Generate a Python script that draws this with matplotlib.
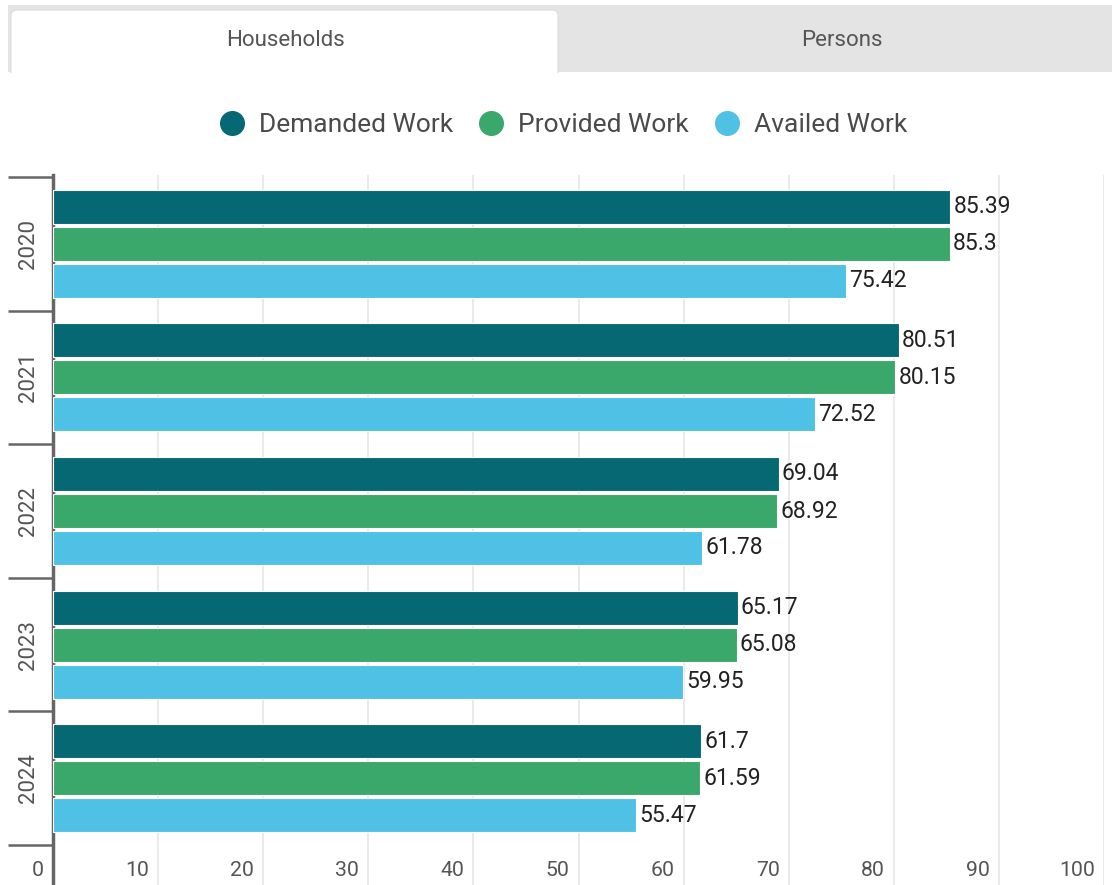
import numpy as np
import matplotlib
matplotlib.use("Agg")
import matplotlib.pyplot as plt
from matplotlib.patches import Rectangle, FancyBboxPatch
from matplotlib.lines import Line2D
from matplotlib.transforms import ScaledTranslation

plt.rcParams['font.family'] = ['Roboto', 'DejaVu Sans']

# data
years = ['2020', '2021', '2022', '2023', '2024']
demanded = [85.39, 80.51, 69.04, 65.17, 61.70]
provided = [85.30, 80.15, 68.92, 65.08, 61.59]
availed = [75.42, 72.52, 61.78, 59.95, 55.47]
value_labels = [
    ['85.39', '80.51', '69.04', '65.17', '61.7'],
    ['85.3', '80.15', '68.92', '65.08', '61.59'],
    ['75.42', '72.52', '61.78', '59.95', '55.47'],
]
series_names = ['Demanded Work', 'Provided Work', 'Availed Work']
colors = ['#066872', '#3aa86b', '#4fc1e5']
xticks = [0, 10, 20, 30, 40, 50, 60, 70, 80, 90, 100]

W, H = 1112, 885
fig = plt.figure(figsize=(W / 100, H / 100), dpi=100)

# tab strip on top
fig.patches.append(Rectangle((8 / W, 1 - 72 / H), (W - 8) / W, 67 / H,
                             transform=fig.transFigure, facecolor='#e4e4e4',
                             edgecolor='none', zorder=0))
fig.patches.append(FancyBboxPatch((11 / W, 1 - 80 / H), 547 / W, 70 / H,
                                  boxstyle="round,pad=0,rounding_size=0.006",
                                  transform=fig.transFigure, facecolor='white',
                                  edgecolor='#dcdcdc', linewidth=0.8, zorder=1))
fig.patches.append(Rectangle((8 / W, 1 - 95 / H), (W - 8) / W, 22 / H,
                             transform=fig.transFigure, facecolor='white',
                             edgecolor='none', zorder=2))
fig.text(285 / W, 1 - 40 / H, 'Households', ha='center', va='center',
         fontsize=16, color='#555555')
fig.text(842 / W, 1 - 40 / H, 'Persons', ha='center', va='center',
         fontsize=16, color='#555555')

# legend
handles = [Line2D([], [], marker='o', linestyle='none', markersize=17,
                  markerfacecolor=c, markeredgecolor=c) for c in colors]
fig.legend(handles, series_names, loc='center', ncol=3, frameon=False,
           bbox_to_anchor=(563 / W, 1 - 125 / H), fontsize=19,
           labelcolor='#4a4a4a', handletextpad=0.53, columnspacing=0.95,
           handlelength=1.0)

# axes
band = 133.6
top_px, bot_px = 175, 885
ax = fig.add_axes([53 / W, 1 - bot_px / H, (1104 - 53) / W, (bot_px - top_px) / H])
y = np.arange(len(years))
off = 37 / band
bh = 34 / band
for i, (vals, c) in enumerate(zip([demanded, provided, availed], colors)):
    pos = y + (i - 1) * off
    ax.barh(pos, vals, height=bh, color=c, edgecolor='white', linewidth=0.8, zorder=3)
    for p, v, lab in zip(pos, vals, value_labels[i]):
        ax.text(v, p, lab, ha='left', va='center', fontsize=16.5,
                color='#222222', zorder=4,
                transform=ax.transData + ScaledTranslation(3 / 100, 0, fig.dpi_scale_trans))

ax.set_xlim(0, 100)
ax.set_ylim(len(years) - 0.5 + 40 / band, -0.5 - 2 / band)

# vertical grid
for xt in xticks[1:]:
    ax.axvline(xt, color='#e6e6e6', linewidth=1.2, zorder=1)
ax.set_xticks([])
tr = ax.get_xaxis_transform() + ScaledTranslation(-9 / 100, 0, fig.dpi_scale_trans)
for xt in xticks:
    ax.text(xt, 15 / (bot_px - top_px), str(xt), transform=tr, ha='right',
            va='center', fontsize=15.3, color='#555555')

# category ticks
ax.set_yticks(np.arange(len(years) + 1) - 0.5)
ax.set_yticklabels([])
ax.tick_params(axis='y', which='major', length=32.4, width=1.8, color='#666666')
ax.set_yticks(y, minor=True)
ax.set_yticklabels(years, minor=True, rotation=90, va='center', fontsize=16,
                   color='#555555')
ax.tick_params(axis='y', which='minor', length=0, pad=10)

for s in ['top', 'right', 'bottom']:
    ax.spines[s].set_visible(False)
ax.spines['left'].set_color('#666666')
ax.spines['left'].set_linewidth(2.5)

fig.savefig('out.png', dpi=100)
